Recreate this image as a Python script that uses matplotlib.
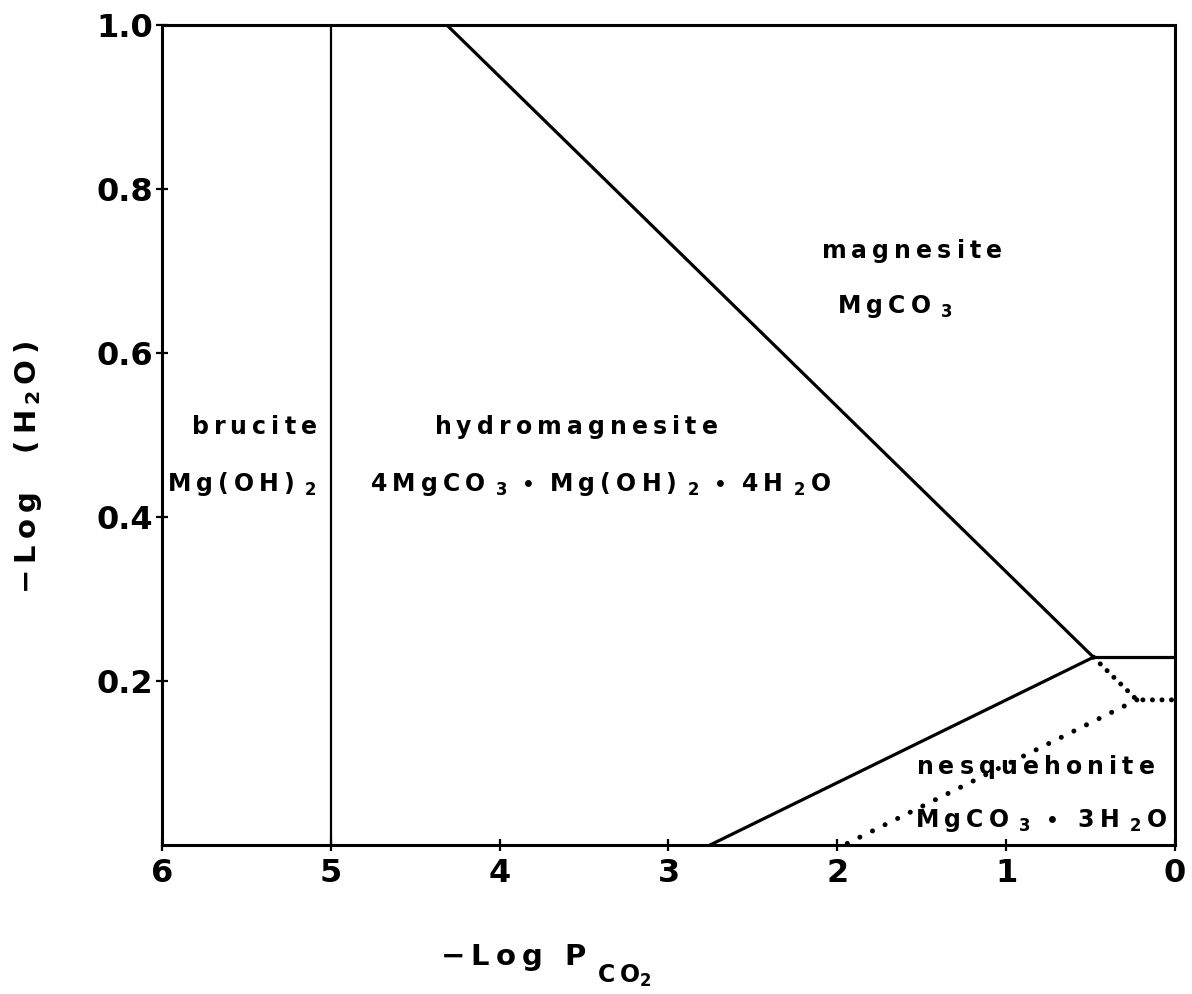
import matplotlib
matplotlib.use('Agg')
from matplotlib import pyplot as plt

plt.rcParams['font.family'] = 'DejaVu Sans'
plt.rcParams['mathtext.fontset'] = 'dejavusans'

# phase boundaries (x = -log PCO2, y = -log aH2O)
brucite_hydro_x = [5.0, 5.0]
brucite_hydro_y = [0.0, 1.0]
hydro_magnesite_x = [4.313, 0.483]
hydro_magnesite_y = [1.0, 0.229]
magnesite_nesq_x = [0.483, 0.0]
magnesite_nesq_y = [0.229, 0.229]
hydro_nesq_x = [0.483, 2.754]
hydro_nesq_y = [0.229, 0.0]
# metastable (dotted) boundaries
meta_upper_x = [0.483, 0.226, 0.0]
meta_upper_y = [0.229, 0.177, 0.177]
meta_lower_x = [0.226, 1.96]
meta_lower_y = [0.177, 0.0]

x_ticks = [6, 5, 4, 3, 2, 1, 0]
y_ticks = [0.2, 0.4, 0.6, 0.8, 1.0]
y_tick_labels = ['0.2', '0.4', '0.6', '0.8', '1.0']


def bf(s):
    # bold with wide letter spacing, like the old plotter lettering
    out = []
    for ch in s:
        out.append(r'\ ' if ch == ' ' else ch)
    return r'\mathbf{' + r'\:'.join(out) + '}'


def sub(d):
    return r'\;\,_{\mathbf{' + d + r'}}\:'


dot = r'\,\bullet\,\:'

lbl_magnesite = '$' + bf('magnesite') + '$'
lbl_mgco3 = '$' + bf('MgCO') + sub('3') + '$'
lbl_brucite = '$' + bf('brucite') + '$'
lbl_brucite_f = '$' + bf('Mg(OH)') + sub('2') + '$'
lbl_hydro = '$' + bf('hydromagnesite') + '$'
lbl_hydro_f = ('$' + bf('4MgCO') + sub('3') + dot + bf('Mg(OH)') + sub('2')
               + dot + bf('4H') + sub('2') + bf('O') + '$')
lbl_nesq = '$' + bf('nesquehonite') + '$'
lbl_nesq_f = ('$' + bf('MgCO') + sub('3') + dot + r'\:' + bf('3H')
              + sub('2') + bf('O') + '$')

fig = plt.figure(figsize=(11.92, 9.94), dpi=100)
ax = fig.add_axes([162 / 1192, 1 - 845 / 994, (1175 - 162) / 1192, (845 - 25) / 994])

ax.plot(brucite_hydro_x, brucite_hydro_y, color='black', lw=1.6)
ax.plot(hydro_magnesite_x, hydro_magnesite_y, color='black', lw=2.3, solid_capstyle='butt')
ax.plot(magnesite_nesq_x, magnesite_nesq_y, color='black', lw=2.3)
ax.plot(hydro_nesq_x, hydro_nesq_y, color='black', lw=2.3)
ax.plot(meta_upper_x, meta_upper_y, color='black', lw=3.6,
        linestyle=(0, (0.01, 1.9)), dash_capstyle='round')
ax.plot(meta_lower_x, meta_lower_y, color='black', lw=3.6,
        linestyle=(0, (0.01, 2.8)), dash_capstyle='round')

ax.set_xlim(6, 0)
ax.set_ylim(0, 1.0)
ax.set_xticks(x_ticks)
ax.set_xticklabels([str(v) for v in x_ticks])
ax.set_yticks(y_ticks)
ax.set_yticklabels(y_tick_labels)
ax.tick_params(direction='inout', length=8, width=1.6, labelsize=23)
ax.tick_params(axis='x', pad=5)
ax.tick_params(axis='y', pad=2.5)
for t in ax.get_xticklabels() + ax.get_yticklabels():
    t.set_fontweight('bold')
for s in ax.spines.values():
    s.set_linewidth(2.2)

fs = 17
ax.text(1.557, 0.716, lbl_magnesite, fontsize=fs, ha='center', va='baseline')
ax.text(2.00, 0.649, lbl_mgco3, fontsize=fs, ha='left', va='baseline')
ax.text(5.455, 0.501, lbl_brucite, fontsize=fs, ha='center', va='baseline')
ax.text(5.97, 0.432, lbl_brucite_f, fontsize=fs, ha='left', va='baseline')
ax.text(3.547, 0.501, lbl_hydro, fontsize=fs, ha='center', va='baseline')
ax.text(4.768, 0.432, lbl_hydro_f, fontsize=fs, ha='left', va='baseline')
ax.text(0.828, 0.087, lbl_nesq, fontsize=fs, ha='center', va='baseline')
ax.text(1.539, 0.022, lbl_nesq_f, fontsize=fs, ha='left', va='baseline')

# axis titles, the CO2 subscript set as its own smaller text
fig.text(440 / 1192, 1 - 965 / 994, '$' + bf('-Log P') + '$', fontsize=21,
         ha='left', va='baseline')
fig.text(597 / 1192, 1 - 983 / 994, '$' + bf('CO') + r'_{\mathbf{2}}$', fontsize=17,
         ha='left', va='baseline')
ylab = '$' + bf('-Log  (H') + r'\,_{\mathbf{2}}\,' + bf('O)') + '$'
fig.text(28 / 1192, 1 - 467 / 994, ylab, fontsize=21, ha='center', va='center',
         rotation=90)

fig.savefig('out.png', dpi=100)
